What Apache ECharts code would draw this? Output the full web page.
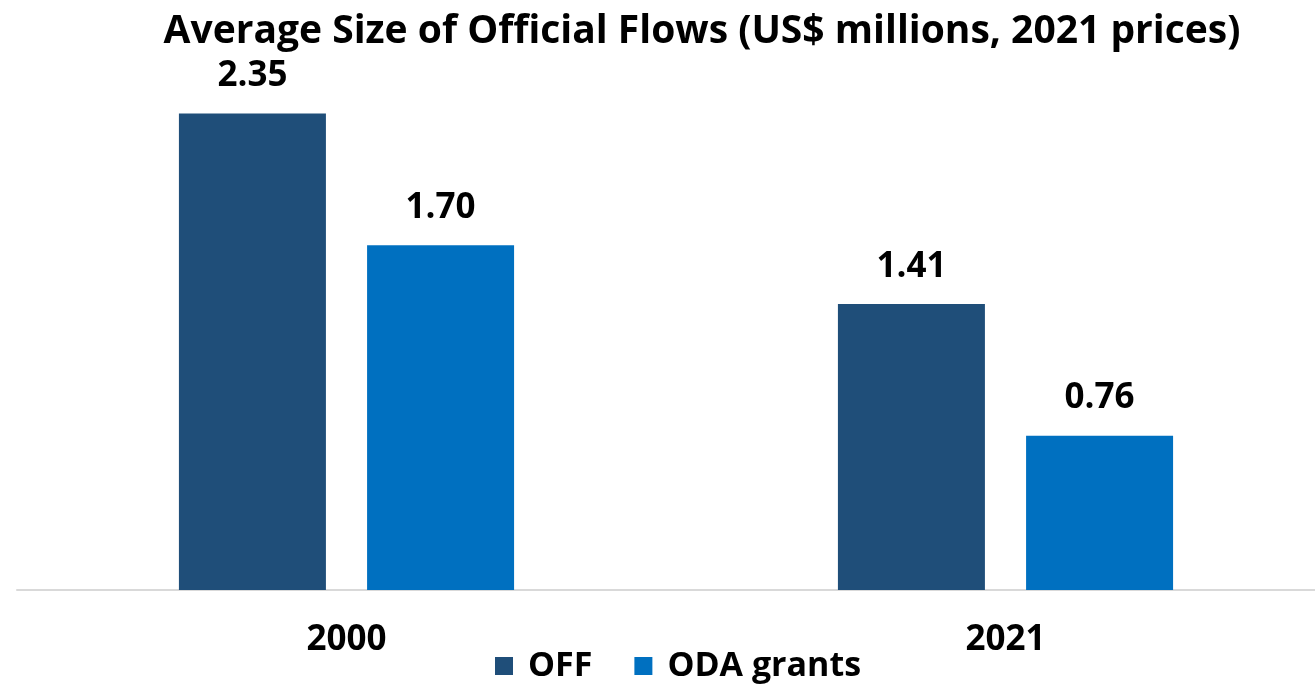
<!DOCTYPE html>
<html>
<head>
<meta charset="utf-8">
<script src="https://cdn.jsdelivr.net/npm/echarts@6/dist/echarts.min.js"></script>
<style>
html,body{margin:0;padding:0;background:#fff;overflow:hidden;}
#chart{width:1335px;height:684px;}
</style>
</head>
<body>
<div id="chart"></div>
<script>
const categories = ['2000', '2021'];
const offValues = [2.35, 1.41];
const odaValues = [1.70, 0.76];
const seriesNames = ['OFF', 'ODA grants'];
const titleText = 'Average Size of Official Flows (US$ millions, 2021 prices)';

const FONT = '"Open Sans", "Liberation Sans", sans-serif';
const chart = echarts.init(document.getElementById('chart'), null, {renderer: 'canvas'});
const labelStyle = {
  show: true, position: 'top', distance: 20,
  fontFamily: FONT, fontWeight: 'bold', fontSize: 35, color: '#000',
  formatter: p => p.value.toFixed(2)
};
chart.setOption({
  animation: false,
  backgroundColor: '#fff',
  title: {
    text: titleText, left: 697, top: 7, textAlign: 'center',
    textStyle: {fontFamily: FONT, fontWeight: 'bold', fontSize: 39, color: '#000'}
  },
  legend: {
    data: seriesNames, left: 490, top: 644, itemGap: 42,
    itemWidth: 18, itemHeight: 18, icon: 'rect',
    textStyle: {fontFamily: FONT, fontWeight: 'bold', fontSize: 34, color: '#000', padding: [0, 0, 0, 10]}
  },
  grid: {left: 17, right: 0, top: 83, bottom: 94, containLabel: false},
  xAxis: {
    type: 'category', data: categories,
    axisLine: {lineStyle: {color: '#d9d9d9', width: 2}},
    axisTick: {show: false},
    axisLabel: {margin: 33, fontFamily: FONT, fontWeight: 'bold', fontSize: 35, color: '#000'}
  },
  yAxis: {type: 'value', min: 0, max: 2.5, show: false, splitLine: {show: false}},
  series: [
    {name: seriesNames[0], type: 'bar', data: offValues, barWidth: 147, barGap: '28%',
     itemStyle: {color: '#1F4E79'}, label: labelStyle},
    {name: seriesNames[1], type: 'bar', data: odaValues, barWidth: 147,
     itemStyle: {color: '#0070C0'}, label: labelStyle}
  ]
});
</script>
</body>
</html>
